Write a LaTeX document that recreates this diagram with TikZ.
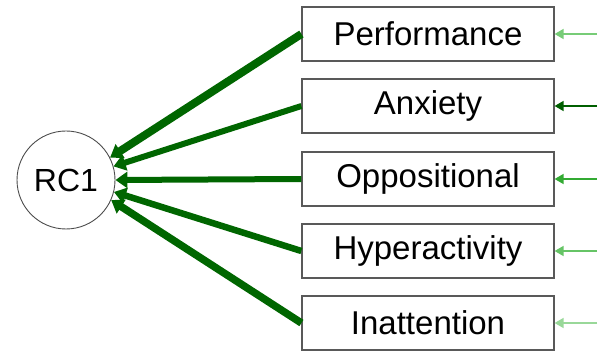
\documentclass[tikz,border=0pt]{standalone}
\usepackage{fontspec}
\setmainfont{Liberation Sans}
\usetikzlibrary{arrows.meta}
\definecolor{dg}{HTML}{006600}
\definecolor{g1}{HTML}{77CC77}
\definecolor{g2}{HTML}{005F00}
\definecolor{g3}{HTML}{33AA33}
\definecolor{g4}{HTML}{66C466}
\definecolor{g5}{HTML}{99D899}
\begin{document}
\begin{tikzpicture}[x=1pt,y=-1pt,
  var/.style={draw=black!65,line width=1.2pt,minimum width=252pt,minimum height=54pt,inner sep=0pt,font=\fontsize{33}{33}\selectfont},
  lat/.style={draw=black!70,line width=0.9pt,circle,minimum size=98pt,inner sep=0pt,font=\fontsize{32}{32}\selectfont},
  load/.style={draw=dg,-{Triangle[length=12pt,width=16pt]}},
  err/.style={line width=1.6pt,-{Triangle[length=9pt,width=10pt]}}]
\useasboundingbox (0,0) rectangle (601,352);
\node[lat] (rc) at (66,180) {RC1};
\node[var] (p) at (428,34) {Performance};
\node[var] (a) at (428,106) {Anxiety};
\node[var] (o) at (428,179) {Oppositional};
\node[var] (h) at (428,251) {Hyperactivity};
\node[var] (i) at (428,323) {Inattention};
\coordinate (ep) at (597,34);
\coordinate (ea) at (597,106);
\coordinate (eo) at (597,179);
\coordinate (eh) at (597,251);
\coordinate (ei) at (597,323);
\draw[load,line width=8pt] (p.west) -- (rc.27);
\draw[load,line width=6pt] (a.west) -- (rc.16);
\draw[load,line width=6pt] (o.west) -- (rc.0);
\draw[load,line width=6.5pt] (h.west) -- (rc.-14);
\draw[load,line width=7.5pt] (i.west) -- (rc.-24);
\draw[err,g1] (ep) -- (p.east);
\draw[err,g2] (ea) -- (a.east);
\draw[err,g3] (eo) -- (o.east);
\draw[err,g4] (eh) -- (h.east);
\draw[err,g5] (ei) -- (i.east);
\end{tikzpicture}
\end{document}
